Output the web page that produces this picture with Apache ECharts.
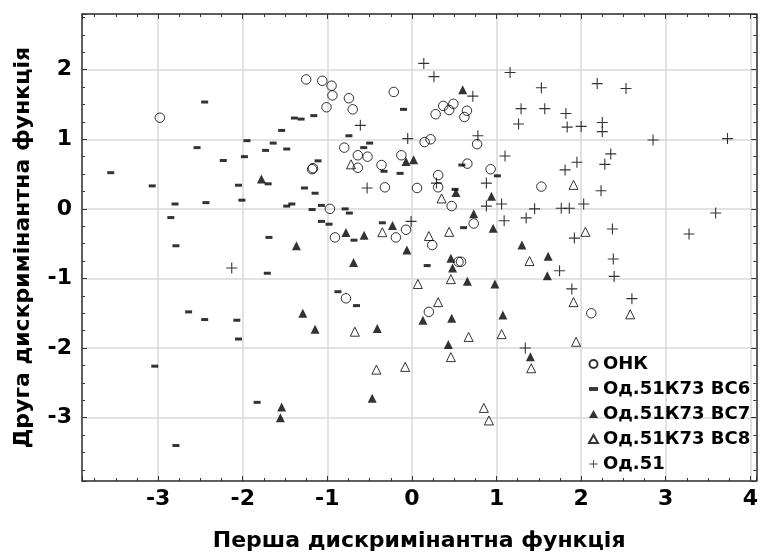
<!DOCTYPE html>
<html>
<head>
<meta charset="utf-8">
<script src="https://cdn.jsdelivr.net/npm/echarts@6/dist/echarts.min.js"></script>
<style>html,body{margin:0;padding:0;background:#fff}#c{width:761px;height:560px}</style>
</head>
<body>
<div id="c"></div>
<script>
const seriesNames = ['ОНК', 'Од.51К73 ВС6', 'Од.51К73 ВС7', 'Од.51К73 ВС8', 'Од.51'];
const xTitle = 'Перша дискримінантна функція';
const yTitle = 'Друга дискримінантна функція';

const onk = [
  [-1.25,1.86],[-2.98,1.31],[-1.06,1.84],[-0.95,1.77],[-0.94,1.63],[-0.745,1.59],[-1.01,1.46],[-0.70,1.43],
  [-0.215,1.68],[0.37,1.48],[0.49,1.51],[0.44,1.42],[0.28,1.36],[0.65,1.41],[0.62,1.32],[0.15,0.96],[0.22,1.00],
  [0.77,0.93],[-0.80,0.88],[-0.64,0.77],[-0.525,0.75],[-0.64,0.59],[-1.18,0.57],[-1.17,0.585],[-0.36,0.63],
  [-0.125,0.77],[0.31,0.485],[0.655,0.65],[0.93,0.57],[-0.32,0.31],[0.06,0.30],[0.31,0.31],[0.47,0.04],
  [1.53,0.32],[0.73,-0.21],[-0.97,0.0],[-0.91,-0.41],[-0.19,-0.41],[-0.07,-0.30],[0.24,-0.52],[0.55,-0.76],
  [0.58,-0.76],[-0.78,-1.285],[0.20,-1.48],[2.12,-1.50]
];
const bc6 = [
  [-2.45,1.535],[-1.39,1.305],[-1.31,1.29],[-1.54,1.127],[-1.95,0.98],[-2.54,0.88],[-1.64,0.945],[-1.73,0.84],
  [-1.48,0.86],[-2.23,0.695],[-1.98,0.75],[-3.56,0.52],[-3.07,0.33],[-2.05,0.34],[-1.70,0.36],[-1.27,0.30],
  [-1.16,1.34],[-0.10,1.43],[-0.745,1.05],[-0.57,0.88],[-0.50,0.945],[-1.11,0.69],[-0.33,0.54],[-0.14,0.51],
  [0.59,0.63],[1.01,0.475],[0.51,0.28],[-2.80,0.07],[-2.435,0.09],[-2.01,0.125],[-1.48,0.04],[-1.42,0.07],
  [-2.85,-0.125],[-1.69,-0.41],[-2.79,-0.53],[-1.71,-0.925],[-2.64,-1.48],[-2.45,-1.59],[-2.07,-1.60],
  [-2.05,-1.87],[-3.04,-2.26],[-1.83,-2.78],[-2.79,-3.40],[-1.145,0.225],[-1.18,-0.01],[-1.07,0.05],
  [-0.79,0.0],[-0.74,-0.06],[-1.07,-0.18],[-0.98,-0.22],[-0.685,-0.45],[-0.35,-0.20],[0.61,-0.27],
  [0.18,-0.815],[-0.875,-1.19],[-0.655,-1.39]
];
const bc7 = [
  [-1.78,0.43],[0.60,1.71],[-0.07,0.68],[0.02,0.705],[-1.365,-0.53],[-1.29,-1.50],[-1.54,-2.845],[-1.555,-3.0],
  [0.52,0.235],[0.94,0.18],[0.73,-0.07],[0.96,-0.28],[-0.78,-0.34],[-0.565,-0.38],[-0.23,-0.24],[-0.06,-0.59],
  [-0.69,-0.77],[0.46,-0.71],[0.48,-0.85],[0.655,-1.04],[0.98,-1.08],[0.13,-1.60],[0.47,-1.57],[1.075,-1.525],
  [-1.145,-1.73],[-0.41,-1.72],[0.43,-1.95],[-0.47,-2.72],[1.30,-0.52],[1.61,-0.68],[1.60,-0.96],[1.40,-2.125]
];
const bc8 = [
  [-0.72,0.64],[1.91,0.345],[2.05,-0.33],[1.39,-0.75],[1.91,-1.34],[2.58,-1.515],[1.94,-1.91],[1.41,-2.29],
  [0.35,0.15],[-0.35,-0.335],[0.20,-0.39],[0.44,-0.33],[0.07,-1.08],[0.46,-1.01],[0.31,-1.34],[-0.675,-1.765],
  [0.67,-1.84],[1.06,-1.80],[0.46,-2.13],[-0.42,-2.31],[-0.08,-2.27],[0.85,-2.86],[0.91,-3.04]
];
const od51 = [
  [0.14,2.09],[0.26,1.90],[0.72,1.62],[1.16,1.96],[1.29,1.44],[1.26,1.22],[-0.61,1.20],[-0.05,1.01],[0.78,1.05],
  [1.10,0.76],[0.88,0.37],[-0.53,0.30],[0.29,0.37],[1.53,1.74],[2.19,1.80],[2.53,1.73],[1.57,1.44],[1.82,1.37],
  [1.835,1.175],[2.0,1.185],[2.25,1.24],[2.25,1.11],[2.85,0.99],[3.73,1.01],[2.35,0.79],[1.95,0.67],[2.28,0.64],
  [1.81,0.56],[2.235,0.26],[1.45,0.0],[1.765,0.01],[1.86,0.01],[2.03,0.07],[1.35,-0.13],[3.59,-0.06],
  [3.275,-0.36],[1.92,-0.42],[2.37,-0.29],[2.38,-0.72],[1.745,-0.89],[2.39,-0.97],[1.89,-1.15],[2.60,-1.29],
  [1.34,-2.0],[-2.13,-0.85],[0.88,0.04],[1.06,0.07],[1.09,-0.17],[-0.01,-0.18]
];

const FONT = 'DejaVu Sans';
const plusPath = 'path://M4.5,0 H5.5 V4.5 H10 V5.5 H5.5 V10 H4.5 V5.5 H0 V4.5 H4.5 Z';
const dashPath = 'path://M0,0 H7 V3 H0 Z';

const chart = echarts.init(document.getElementById('c'), null, {renderer: 'canvas'});

function xAx(pos, main) {
  return {
    type: 'value', position: pos, min: -3.9, max: 4.07, splitNumber: 8,
    axisLine: {show: true, onZero: false, lineStyle: {color: '#333', width: 1.5}},
    axisTick: {show: true, inside: true, length: 5, lineStyle: {color: '#333'}},
    minorTick: {show: true, splitNumber: 4, length: 3, lineStyle: {color: '#333'}},
    splitLine: {show: main, lineStyle: {color: '#d9d9d9', width: 1.5}},
    axisLabel: {show: main, fontFamily: FONT, fontWeight: 'bold', fontSize: 22, color: '#000', margin: 7,
      showMinLabel: false, showMaxLabel: false},
    name: main ? xTitle : '', nameLocation: 'middle', nameGap: 49,
    nameTextStyle: {fontFamily: FONT, fontWeight: 'bold', fontSize: 22, color: '#000'}
  };
}
function yAx(pos, main) {
  return {
    type: 'value', position: pos, min: -3.91, max: 2.8, splitNumber: 7,
    axisLine: {show: true, onZero: false, lineStyle: {color: '#333', width: 1.5}},
    axisTick: {show: true, inside: true, length: 5, lineStyle: {color: '#333'}},
    minorTick: {show: true, splitNumber: 4, length: 3, lineStyle: {color: '#333'}},
    splitLine: {show: main, lineStyle: {color: '#d9d9d9', width: 1.5}},
    axisLabel: {show: main, fontFamily: FONT, fontWeight: 'bold', fontSize: 22, color: '#000', margin: 10,
      showMinLabel: false, showMaxLabel: false},
    name: main ? yTitle : '', nameLocation: 'middle', nameGap: 48,
    nameTextStyle: {fontFamily: FONT, fontWeight: 'bold', fontSize: 22, color: '#000'}
  };
}

const open = {color: 'rgba(0,0,0,0)', borderColor: '#000', borderWidth: 1};

chart.setOption({
  animation: false,
  backgroundColor: '#fff',
  grid: {left: 82, right: 2, top: 14, bottom: 79},
  xAxis: [xAx('bottom', true), xAx('top', false)],
  yAxis: [yAx('left', true), yAx('right', false)],
  legend: {
    orient: 'vertical', left: 588, top: 354, padding: 0, itemGap: 5, itemWidth: 9, itemHeight: 8,
    textStyle: {fontFamily: FONT, fontWeight: 'bold', fontSize: 18, color: '#000', lineHeight: 20},
    data: [
      {name: seriesNames[0], icon: 'circle'},
      {name: seriesNames[1], icon: dashPath},
      {name: seriesNames[2], icon: 'triangle'},
      {name: seriesNames[3], icon: 'triangle'},
      {name: seriesNames[4], icon: plusPath}
    ]
  },
  series: [
    {name: seriesNames[0], type: 'scatter', data: onk, symbol: 'circle', symbolSize: 9.5, itemStyle: open, z: 3},
    {name: seriesNames[1], type: 'scatter', data: bc6, symbol: 'rect', symbolSize: [7, 3], itemStyle: {color: '#000'}},
    {name: seriesNames[2], type: 'scatter', data: bc7, symbol: 'triangle', symbolSize: 9, itemStyle: {color: '#000'}},
    {name: seriesNames[3], type: 'scatter', data: bc8, symbol: 'triangle', symbolSize: 9, itemStyle: open},
    {name: seriesNames[4], type: 'scatter', data: od51, symbol: plusPath, symbolSize: 11, itemStyle: {color: '#000'}}
  ]
});
</script>
</body>
</html>
